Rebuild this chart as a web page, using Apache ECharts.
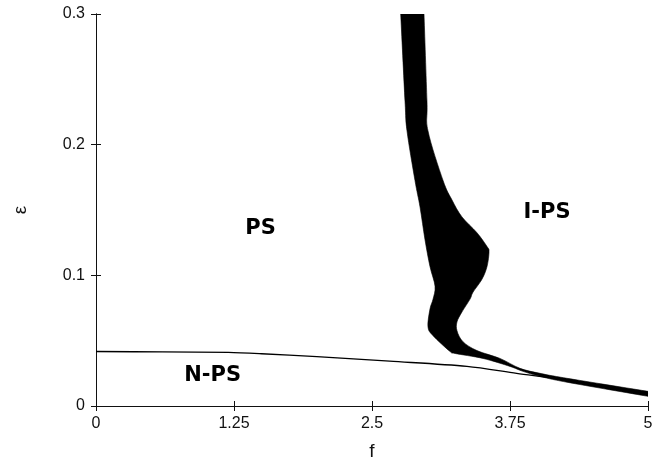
<!DOCTYPE html>
<html>
<head>
<meta charset="utf-8">
<script src="https://cdn.jsdelivr.net/npm/echarts@6/dist/echarts.min.js"></script>
<style>
  html, body { margin: 0; padding: 0; background: #fff; }
  #chart { width: 669px; height: 466px; }
</style>
</head>
<body>
<div id="chart"></div>
<script>
// Axis ticks
const xTicks = [0, 1.25, 2.5, 3.75, 5];
const yTicks = [0, 0.1, 0.2, 0.3];

// Boundary between PS and N-PS
const npsF   = [0,      0.6,    1.2,   1.5,   2.0,    2.66,   3.36,   3.81,  4.27,   5];
const npsEps = [0.0417, 0.0414, 0.041, 0.040, 0.0378, 0.0343, 0.0303, 0.025, 0.0197, 0.0091];

// Coexistence band: left edge (top to bottom)
const bandLeftF   = [2.76, 2.799, 2.817, 2.889, 2.935, 2.980, 3.025, 3.071, 3.053, 3.025, 3.007, 3.053, 3.207, 3.252, 3.505, 3.750, 3.868, 4.022, 4.266, 5.0];
const bandLeftEps = [0.3,  0.2333, 0.2106, 0.1727, 0.1523, 0.1273, 0.1068, 0.0917, 0.0818, 0.0742, 0.0606, 0.0538, 0.0417, 0.0402, 0.0364, 0.0303, 0.0265, 0.0227, 0.0182, 0.0074];

// Coexistence band: right edge (top to bottom)
const bandRightF   = [2.971, 2.998, 3.007, 3.143, 3.225, 3.315, 3.451, 3.542, 3.560, 3.542, 3.496, 3.415, 3.388, 3.315, 3.270, 3.270, 3.324, 3.451, 3.659, 3.841, 4.022, 4.266, 5.0];
const bandRightEps = [0.3,   0.2333, 0.2106, 0.1727, 0.1576, 0.1447, 0.1326, 0.1220, 0.1182, 0.1068, 0.0970, 0.0871, 0.0818, 0.0720, 0.0644, 0.0576, 0.0492, 0.0424, 0.0364, 0.0288, 0.025, 0.0212, 0.0112];

// Region names and where they sit
const regionNames = ['PS', 'I-PS', 'N-PS'];
const regionF     = [1.49, 4.085, 1.057];
const regionEps   = [0.1356, 0.148, 0.0233];

const npsData = npsF.map((f, i) => [f, npsEps[i]]);
const leftPts = bandLeftF.map((f, i) => [f, bandLeftEps[i]]);
const rightPts = bandRightF.map((f, i) => [f, bandRightEps[i]]);
const labelData = regionNames.map((n, i) => ({ value: [regionF[i], regionEps[i]], name: n }));

// Smooth open curve through pixel points (Catmull-Rom as cubic Beziers)
function curveSegments(pts) {
  let d = '';
  for (let i = 0; i < pts.length - 1; i++) {
    const p0 = pts[Math.max(i - 1, 0)], p1 = pts[i], p2 = pts[i + 1], p3 = pts[Math.min(i + 2, pts.length - 1)];
    const c1 = [p1[0] + (p2[0] - p0[0]) / 6, p1[1] + (p2[1] - p0[1]) / 6];
    const c2 = [p2[0] - (p3[0] - p1[0]) / 6, p2[1] - (p3[1] - p1[1]) / 6];
    d += ' C' + c1[0] + ',' + c1[1] + ' ' + c2[0] + ',' + c2[1] + ' ' + p2[0] + ',' + p2[1];
  }
  return d;
}

const axisColor = '#111';
const tickFont = { fontFamily: 'Liberation Sans', fontSize: 16, color: '#111' };

const chart = echarts.init(document.getElementById('chart'), null, { renderer: 'canvas' });
chart.setOption({
  animation: false,
  backgroundColor: '#fff',
  grid: { left: 96, right: 21, top: 14, bottom: 58 },
  xAxis: [{
    type: 'value', min: xTicks[0], max: xTicks[xTicks.length - 1], interval: 1.25,
    name: 'f', nameLocation: 'middle', nameGap: 36,
    nameTextStyle: { fontFamily: 'Liberation Sans', fontSize: 19, color: '#111' },
    axisLine: { show: true, lineStyle: { color: axisColor, width: 1 } },
    axisTick: { show: true, inside: true, length: 5, lineStyle: { color: axisColor } },
    axisLabel: Object.assign({ margin: 10, formatter: v => String(v) }, tickFont),
    splitLine: { show: false }
  }, {
    type: 'value', position: 'top', min: xTicks[0], max: xTicks[xTicks.length - 1], interval: 1.25,
    axisLine: { show: true, lineStyle: { color: axisColor, width: 1 } },
    axisTick: { show: true, inside: true, length: 5, lineStyle: { color: axisColor } },
    axisLabel: { show: false }, splitLine: { show: false }
  }],
  yAxis: [{
    type: 'value', min: yTicks[0], max: yTicks[yTicks.length - 1], interval: 0.1,
    name: 'ε', nameLocation: 'middle', nameGap: 66, nameRotate: 90,
    nameTextStyle: { fontFamily: 'Liberation Sans', fontSize: 19, color: '#111' },
    axisLine: { show: true, lineStyle: { color: axisColor, width: 1 } },
    axisTick: { show: true, inside: true, length: 5, lineStyle: { color: axisColor } },
    axisLabel: Object.assign({ margin: 11, formatter: v => String(+v.toFixed(2)) }, tickFont),
    splitLine: { show: false }
  }, {
    type: 'value', position: 'right', min: yTicks[0], max: yTicks[yTicks.length - 1], interval: 0.1,
    axisLine: { show: true, lineStyle: { color: axisColor, width: 1 } },
    axisTick: { show: true, inside: true, length: 5, lineStyle: { color: axisColor } },
    axisLabel: { show: false }, splitLine: { show: false }
  }],
  series: [
    {
      // filled coexistence band: smooth left edge, then right edge back up, closed
      type: 'custom',
      clip: true,
      data: leftPts,
      renderItem: function (params, api) {
        if (params.dataIndex !== 0) return null;
        const l = leftPts.map(p => api.coord(p));
        const r = rightPts.map(p => api.coord(p)).reverse();
        const d = 'M' + l[0][0] + ',' + l[0][1] + curveSegments(l) +
                  ' L' + r[0][0] + ',' + r[0][1] + curveSegments(r) + ' Z';
        return {
          type: 'path',
          shape: { pathData: d },
          style: { fill: '#000', stroke: '#000', lineWidth: 0.6 }
        };
      },
      silent: true, z: 3
    },
    {
      type: 'line',
      data: npsData,
      showSymbol: false,
      smooth: 0.3,
      lineStyle: { color: '#000', width: 1.3 },
      silent: true, z: 2
    },
    {
      type: 'custom',
      data: labelData,
      renderItem: function (params, api) {
        const p = api.coord([api.value(0), api.value(1)]);
        return {
          type: 'text',
          style: {
            text: labelData[params.dataIndex].name,
            x: p[0], y: p[1],
            align: 'center', verticalAlign: 'middle',
            font: 'bold 21px "DejaVu Sans"', fill: '#000'
          }
        };
      },
      silent: true, z: 4
    }
  ]
});
</script>
</body>
</html>
